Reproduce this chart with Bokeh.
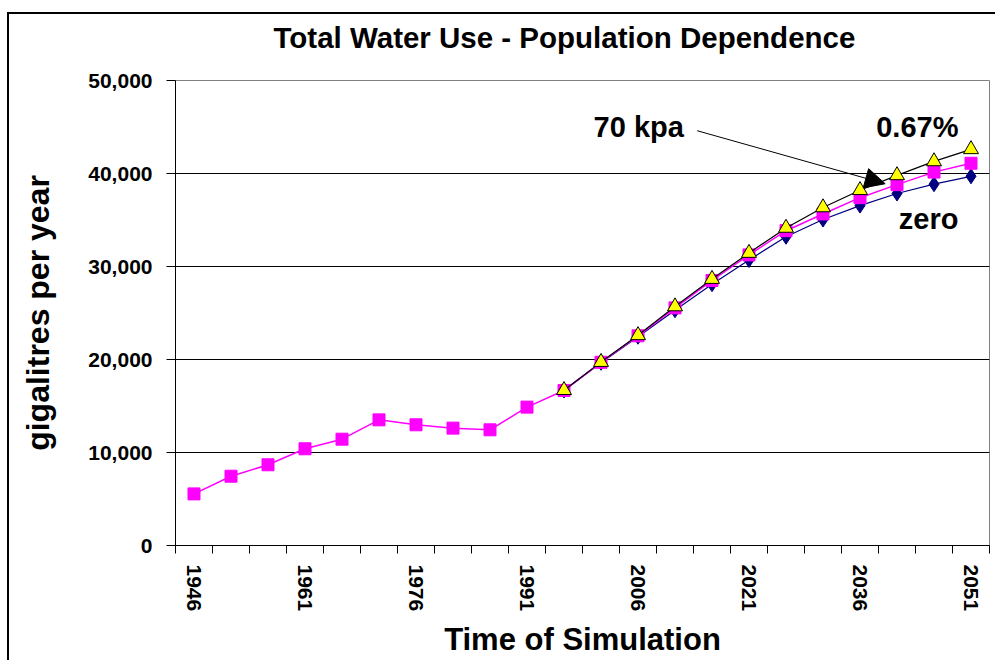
from bokeh.plotting import figure
from bokeh.models import FixedTicker, NumeralTickFormatter, Label, Arrow, NormalHead, Range1d
from bokeh.embed import file_html
from bokeh.resources import INLINE

# ---- data ----
years = [1946, 1951, 1956, 1961, 1966, 1971, 1976, 1981, 1986, 1991, 1996,
         2001, 2006, 2011, 2016, 2021, 2026, 2031, 2036, 2041, 2046, 2051]
kpa70 = [5550, 7450, 8680, 10400, 11430, 13510, 12980, 12620, 12440, 14880, 16670,
         19700, 22550, 25550, 28500, 31250, 33850, 35650, 37400, 38800, 40150, 41100]
proj_years = [1996, 2001, 2006, 2011, 2016, 2021, 2026, 2031, 2036, 2041, 2046, 2051]
zero = [16670, 19650, 22450, 25300, 28100, 30700, 33200, 35050, 36550, 37850, 38850, 39700]
pct067 = [16700, 19720, 22600, 25700, 28650, 31450, 34150, 36350, 38200, 39800, 41300, 42600]
label_years = [1946, 1961, 1976, 1991, 2006, 2021, 2036, 2051]
y_ticks = [0, 10000, 20000, 30000, 40000, 50000]

FONT = "Liberation Sans"

half = 2.5
boundaries = [y - half for y in years] + [years[-1] + half]

p = figure(frame_width=814, frame_height=465,
           x_range=Range1d(years[0] - half, years[-1] + half),
           y_range=Range1d(0, 50000),
           output_backend="svg", toolbar_location=None,
           min_border_left=168, min_border_top=60, min_border_right=6, min_border_bottom=0,
           title="Total Water Use - Population Dependence")
p.styles = {
    "position": "relative", "top": "-8px", "left": "7px",
    "background": ("linear-gradient(#000,#000) 0px 20px / 100% 2px no-repeat, "
                   "linear-gradient(#000,#000) 0px 20px / 2px 100% no-repeat, #fff"),
}

p.title.text_font = FONT
p.title.text_font_size = "29.5px"
p.title.text_font_style = "bold"
p.title.text_color = "black"
p.title.align = "left"
p.title.offset = 98
p.title.standoff = 53

p.background_fill_color = "white"
p.border_fill_color = None
p.outline_line_color = "#808080"

# x axis
xa = p.xaxis[0]
xa.ticker = FixedTicker(ticks=label_years, minor_ticks=boundaries)
xa.major_tick_line_color = None
xa.major_tick_out = 8
xa.major_tick_in = 0
xa.minor_tick_out = 8
xa.minor_tick_in = 0
xa.minor_tick_line_color = "black"
xa.axis_line_color = "black"
xa.major_label_orientation = "vertical"
xa.major_label_standoff = 11
xa.major_label_text_font = FONT
xa.major_label_text_font_size = "21px"
xa.major_label_text_font_style = "bold"
xa.major_label_text_color = "black"
xa.axis_label = "Time of Simulation"
xa.axis_label_text_font = FONT
xa.axis_label_text_font_size = "31px"
xa.axis_label_text_font_style = "bold"
xa.axis_label_text_color = "black"
xa.axis_label_standoff = 8

# y axis
ya = p.yaxis[0]
ya.ticker = FixedTicker(ticks=y_ticks, minor_ticks=[])
ya.formatter = NumeralTickFormatter(format="0,0")
ya.major_tick_out = 9
ya.major_tick_in = 0
ya.minor_tick_line_color = None
ya.axis_line_color = "black"
ya.major_label_standoff = 14
ya.major_label_text_font = FONT
ya.major_label_text_font_size = "21px"
ya.major_label_text_font_style = "bold"
ya.major_label_text_color = "black"
ya.axis_label = "gigalitres per year"
ya.axis_label_text_font = FONT
ya.axis_label_text_font_size = "32px"
ya.axis_label_text_font_style = "bold"
ya.axis_label_text_color = "black"
ya.axis_label_standoff = 29

p.xgrid.visible = False
p.ygrid.ticker = FixedTicker(ticks=y_ticks)
p.ygrid.grid_line_color = "black"
p.ygrid.grid_line_width = 1

# series
p.line(proj_years, zero, line_color="#000080", line_width=1.2)
p.scatter(proj_years, zero, marker="diamond", size=15, fill_color="#000080", line_color="#000080")
p.line(years, kpa70, line_color="#FF00FF", line_width=1.5)
p.scatter(years, kpa70, marker="square", size=12, fill_color="#FF00FF", line_color="#FF00FF")
p.line(proj_years, pct067, line_color="black", line_width=1.2)
p.scatter(proj_years, pct067, marker="triangle", size=15, fill_color="#FFFF00",
          line_color="black", line_width=1)

# annotations
p.add_layout(Arrow(x_start=2014.0, y_start=44600, x_end=2039.4, y_end=38900,
                   line_color="black", line_width=1,
                   end=NormalHead(size=20, fill_color="black", line_color="black")))
for txt, lx, ly, align in [("70 kpa", 2000.0, 45030, "left"),
                           ("0.67%", 2049.3, 45030, "right"),
                           ("zero", 2049.3, 35060, "right")]:
    p.add_layout(Label(x=lx, y=ly, text=txt, text_align=align, text_baseline="alphabetic",
                       text_font=FONT, text_font_size="29px", text_font_style="bold",
                       text_color="black"))

open("out.html", "w").write(file_html(p, INLINE))
